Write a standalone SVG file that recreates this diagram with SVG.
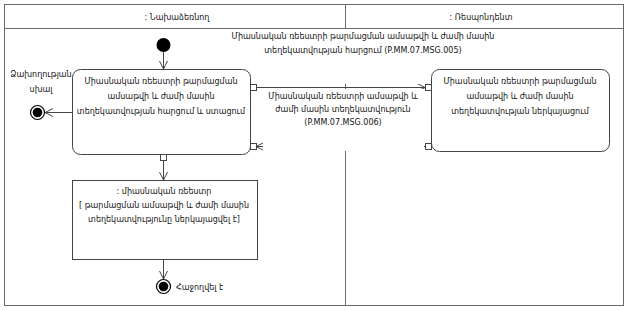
<svg xmlns="http://www.w3.org/2000/svg" width="628" height="311" viewBox="0 0 628 311">
<style>
text{font-family:"DejaVu Sans","Noto Sans",sans-serif;font-size:8px;fill:#111;text-anchor:middle}
.frame{fill:none;stroke:#6a6a6a;stroke-width:1}
.node{fill:#fff;stroke:#444;stroke-width:1}
.edge{fill:none;stroke:#444;stroke-width:1}
.pin{fill:#fff;stroke:#444;stroke-width:1}
.bg{fill:#fff;stroke:none}
</style>
<defs>
<marker id="arr" markerWidth="10" markerHeight="10" refX="8" refY="4" orient="auto" markerUnits="userSpaceOnUse">
<path d="M0,0 L8,4 L0,8" fill="none" stroke="#444" stroke-width="1"/>
</marker>
</defs>
<rect x="0" y="0" width="628" height="311" fill="#fff"/>
<g id="swimlanes">
<rect class="frame" x="4.5" y="4.5" width="619" height="301"/>
<line class="frame" x1="4.5" y1="28.5" x2="623.5" y2="28.5"/>
<line class="frame" x1="345.5" y1="4.5" x2="345.5" y2="305.5"/>
<text x="177" y="20">: Նախաձեռնող</text>
<text x="481" y="20">: Ռեսպոնդենտ</text>
</g>
<g id="connectors">
<line class="edge" x1="163.5" y1="52" x2="163.5" y2="69" marker-end="url(#arr)"/>
<line class="edge" x1="72" y1="112.5" x2="45" y2="112.5" marker-end="url(#arr)"/>
<line class="edge" x1="256" y1="87.5" x2="425" y2="87.5" marker-end="url(#arr)"/>
<line class="edge" x1="425" y1="146.5" x2="256" y2="146.5" marker-end="url(#arr)"/>
<line class="edge" x1="163.5" y1="160" x2="163.5" y2="180" marker-end="url(#arr)"/>
<line class="edge" x1="163.5" y1="259" x2="163.5" y2="279" marker-end="url(#arr)"/>
</g>
<g id="label-msg005">
<rect class="bg" x="226" y="29" width="274" height="55"/>
<text x="363" y="39">Միասնական ռեեստրի թարմացման ամսաթվի և ժամի մասին</text>
<text x="363" y="53">տեղեկատվության հարցում (P.MM.07.MSG.005)</text>
</g>
<g id="label-msg006">
<rect class="bg" x="263" y="89" width="161" height="62"/>
<text x="343" y="99">Միասնական ռեեստրի ամսաթվի և</text>
<text x="343" y="112">ժամի մասին տեղեկատվություն</text>
<text x="343" y="125">(P.MM.07.MSG.006)</text>
</g>
<g id="initial">
<circle cx="163.5" cy="45" r="7" fill="#000"/>
</g>
<g id="action-request">
<rect class="node" x="72.5" y="69.5" width="178" height="85" rx="8"/>
<text x="161" y="84">Միասնական ռեեստրի թարմացման</text>
<text x="161" y="99">ամսաթվի և ժամի մասին</text>
<text x="161" y="114">տեղեկատվության հարցում և ստացում</text>
<rect class="pin" x="250.5" y="84.5" width="6" height="6"/>
<rect class="pin" x="250.5" y="143.5" width="6" height="6"/>
<rect class="pin" x="160.5" y="154.5" width="6" height="6"/>
</g>
<g id="action-provide">
<rect class="node" x="431.5" y="69.5" width="178" height="82" rx="8"/>
<text x="520" y="84">Միասնական ռեեստրի թարմացման</text>
<text x="520" y="99">ամսաթվի և ժամի մասին</text>
<text x="520" y="114">տեղեկատվության ներկայացում</text>
<rect class="pin" x="425.5" y="84.5" width="6" height="6"/>
<rect class="pin" x="425.5" y="143.5" width="6" height="6"/>
</g>
<g id="final-failure">
<circle cx="37.5" cy="112.5" r="7" fill="#fff" stroke="#000" stroke-width="1.2"/>
<circle cx="37.5" cy="112.5" r="4.8" fill="#000"/>
<text x="41" y="77">Ձախողության</text>
<text x="41" y="92">սխալ</text>
</g>
<g id="object-registry">
<rect class="node" x="72.5" y="180.5" width="185" height="79"/>
<text x="164" y="194">: միասնական ռեեստր</text>
<text x="164" y="208">[ թարմացման ամսաթվի և ժամի մասին</text>
<text x="164" y="222">տեղեկատվությունը ներկայացվել է]</text>
</g>
<g id="final-success">
<circle cx="163.5" cy="286.5" r="7" fill="#fff" stroke="#000" stroke-width="1.2"/>
<circle cx="163.5" cy="286.5" r="4.8" fill="#000"/>
<text x="176" y="290" style="text-anchor:start">Հաջողվել է</text>
</g>
</svg>
